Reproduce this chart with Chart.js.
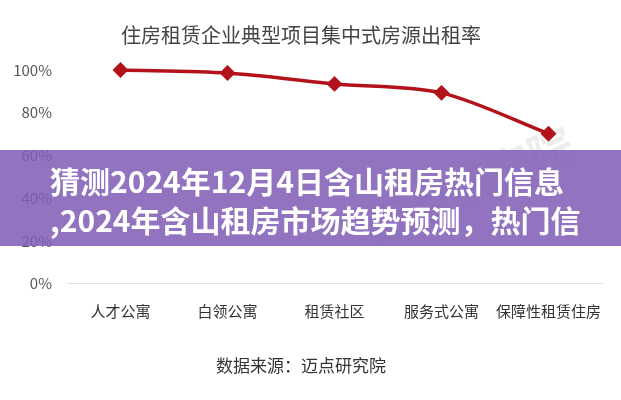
<!DOCTYPE html>
<html>
<head>
<meta charset="utf-8">
<script src="https://cdn.jsdelivr.net/npm/chart.js@4.4.1/dist/chart.umd.min.js"></script>
<style>
    html, body { margin: 0; padding: 0; background: #fff; }
    #wrap { position: relative; width: 621px; height: 400px; overflow: hidden; }
    #band {
        position: absolute; left: 0; top: 150px; width: 621px; height: 96px;
        background: rgba(128, 92, 182, 0.86);
        color: #fff; font-family: "Noto Sans CJK SC", sans-serif; font-weight: bold;
        font-size: 30px; line-height: 39px; box-sizing: border-box; padding: 11px 0 0 50px;
        white-space: nowrap;
    }
</style>
</head>
<body>
<div id="wrap">
    <canvas id="chart" width="621" height="400"></canvas>
    <div id="band">猜测2024年12月4日含山租房热门信息<br>,2024年含山租房市场趋势预测，热门信</div>
</div>
<script>
const categories = ['人才公寓', '白领公寓', '租赁社区', '服务式公寓', '保障性租赁住房'];
const occupancy = [100, 98.6, 93.5, 89.3, 70.2];
const yTicks = [0, 20, 40, 60, 80, 100];

const chartTitle = '住房租赁企业典型项目集中式房源出租率';
const sourceText = '数据来源：迈点研究院';
const watermark = '迈点研究院';

const fontFamily = '"Noto Sans CJK SC", "Noto Sans", sans-serif';

// faint watermark behind the line
const watermarkPlugin = {
    id: 'watermark',
    beforeDatasetsDraw(chart) {
        const c = chart.ctx;
        c.save();
        c.translate(470, 185);
        c.rotate(-0.42);
        c.fillStyle = 'rgba(0, 0, 0, 0.07)';
        c.font = 'bold 44px ' + fontFamily;
        c.textAlign = 'center';
        c.textBaseline = 'middle';
        c.fillText(watermark, 0, 0);
        c.restore();
    }
};

document.addEventListener("DOMContentLoaded", function () {
    const ctx = document.getElementById('chart').getContext('2d');
    new Chart(ctx, {
        type: 'line',
        data: {
            labels: categories,
            datasets: [{
                label: '出租率',
                data: occupancy,
                borderColor: '#b3121b',
                backgroundColor: '#b3121b',
                borderWidth: 3.5,
                tension: 0.3,
                pointStyle: 'rectRot',
                pointRadius: 5.5,
                pointHoverRadius: 5.5,
                clip: false
            }]
        },
        plugins: [watermarkPlugin],
        options: {
            responsive: false,
            animation: false,
            layout: { padding: { left: 0, right: 19, top: 0, bottom: 0 } },
            plugins: {
                legend: { display: false },
                tooltip: { enabled: false },
                title: {
                    display: true,
                    text: chartTitle,
                    color: '#444',
                    font: { family: fontFamily, size: 20, weight: 'normal' },
                    padding: { top: 23, bottom: 23 }
                },
                subtitle: {
                    display: true,
                    position: 'bottom',
                    text: sourceText,
                    color: '#333',
                    font: { family: fontFamily, size: 17, weight: 'normal' },
                    padding: { top: 22, bottom: 24 }
                }
            },
            scales: {
                x: {
                    offset: true,
                    grid: { display: false },
                    border: { display: true, color: '#e2e2e2', width: 1 },
                    ticks: {
                        color: '#333',
                        padding: 11,
                        minRotation: 0,
                        maxRotation: 0,
                        autoSkip: false,
                        font: { family: fontFamily, size: 15 }
                    },
                    afterFit: function (scale) { scale.height = 50; }
                },
                y: {
                    min: 0,
                    max: 100,
                    grid: { display: false },
                    border: { display: false },
                    afterBuildTicks: function (scale) {
                        scale.ticks = yTicks.map(v => ({ value: v }));
                    },
                    ticks: {
                        color: '#555',
                        padding: 7,
                        font: { family: fontFamily, size: 15 },
                        callback: function (v) { return v + '%'; }
                    },
                    afterFit: function (scale) { scale.width = 67; }
                }
            }
        }
    });
});
</script>
</body>
</html>
